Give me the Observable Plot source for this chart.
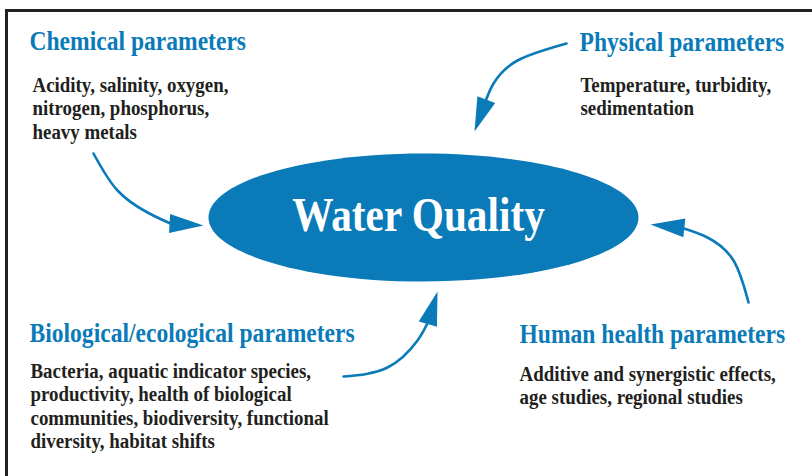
<!DOCTYPE html>
<html><head><meta charset="utf-8">
<script src="https://cdn.jsdelivr.net/npm/d3@7"></script>
<script src="https://cdn.jsdelivr.net/npm/@observablehq/plot@0.6"></script>
<style>
html,body{margin:0;padding:0;background:#fff}
#chart svg{display:block}
</style>
</head><body><div id="chart"></div>
<script>
// ---- content ----
const centerLabel = "Water Quality";
const groupTitles = [
  "Chemical parameters",
  "Physical parameters",
  "Biological/ecological parameters",
  "Human health parameters"
];
const groupItems = [
  ["Acidity, salinity, oxygen,", "nitrogen, phosphorus,", "heavy metals"],
  ["Temperature, turbidity,", "sedimentation"],
  ["Bacteria, aquatic indicator species,", "productivity, health of biological",
   "communities, biodiversity, functional", "diversity, habitat shifts"],
  ["Additive and synergistic effects,", "age studies, regional studies"]
];

// ---- layout of the diagram (pixel coordinates) ----
const titlePos = [[29, 49], [579, 50], [29, 341], [519, 342]];
const bodyPos = [[32, 91], [580, 91], [30, 377], [519, 380]];
const lineStep = 23.6;
const ellipsePos = {cx: 423, cy: 217, rx: 215, ry: 64};
const arrowPaths = [
  [[93, 153], [117, 190], [147, 212], [170, 223]],
  [[566, 43], [517, 60], [493, 83], [484, 104]],
  [[343, 376], [387, 367], [417, 340], [429, 318]],
  [[748, 302], [733, 260], [707, 237], [680, 227]]
];
const arrowTips = [[203, 225], [474, 131], [437, 291], [650, 224]];

const blue = "#0a7bb8";
const ink = "#231f20";
const font = "Liberation Serif, Times New Roman, serif";

// ---- build tables ----
const titles = groupTitles.map((t, i) => ({text: t, x: titlePos[i][0], y: titlePos[i][1]}));
const bodyLines = groupItems.flatMap((lines, i) =>
  lines.map((t, j) => ({text: t, x: bodyPos[i][0], y: bodyPos[i][1] + j * lineStep})));
const arrowLines = arrowPaths.flatMap((pts, i) => pts.map(([x, y]) => ({id: i, x, y})));
const heads = arrowTips.map(([x, y], i) => {
  const [bx, by] = arrowPaths[i][arrowPaths[i].length - 1];
  return {x, y, angle: Math.atan2(y - by, x - bx) * 180 / Math.PI};
});

const headSymbol = {
  draw(ctx) {
    const L = 34, W = 19;
    ctx.moveTo(0, 0);
    ctx.lineTo(-L, -W / 2);
    ctx.lineTo(-L, W / 2);
    ctx.closePath();
  }
};
const ellipseSymbol = {
  draw(ctx) {
    const {rx, ry} = ellipsePos, k = 0.5523;
    ctx.moveTo(rx, 0);
    ctx.bezierCurveTo(rx, ry * k, rx * k, ry, 0, ry);
    ctx.bezierCurveTo(-rx * k, ry, -rx, ry * k, -rx, 0);
    ctx.bezierCurveTo(-rx, -ry * k, -rx * k, -ry, 0, -ry);
    ctx.bezierCurveTo(rx * k, -ry, rx, -ry * k, rx, 0);
    ctx.closePath();
  }
};

const plot = Plot.plot({
  width: 812,
  height: 476,
  margin: 0,
  x: {domain: [0, 812], range: [0, 812], axis: null},
  y: {domain: [0, 476], range: [0, 476], axis: null},
  style: {background: "#fff"},
  marks: [
    Plot.ruleY([10], {x1: 5, x2: 812, stroke: "#222", strokeWidth: 3}),
    Plot.ruleX([6], {y1: 9, y2: 476, stroke: "#222", strokeWidth: 3}),
    Plot.dot([ellipsePos], {x: "cx", y: "cy", symbol: ellipseSymbol, fill: blue, stroke: "none"}),
    Plot.line(arrowLines, {x: "x", y: "y", z: "id", curve: "natural", stroke: blue, strokeWidth: 2.6}),
    Plot.dot(heads, {x: "x", y: "y", rotate: "angle", symbol: headSymbol, fill: blue, stroke: "none"}),
    Plot.text([centerLabel], {x: ellipsePos.cx - 5, y: 230, text: d => d, fill: "#fff", fontSize: 48, fontWeight: "bold", fontFamily: font, textAnchor: "middle", lineAnchor: "bottom"}),
    Plot.text(titles, {x: "x", y: "y", text: "text", fill: blue, fontSize: 27.4, fontWeight: "bold", fontFamily: font, textAnchor: "start", lineAnchor: "bottom"}),
    Plot.text(bodyLines, {x: "x", y: "y", text: "text", fill: ink, fontSize: 22, fontWeight: "bold", fontFamily: font, textAnchor: "start", lineAnchor: "bottom"})
  ]
});
document.getElementById("chart").appendChild(plot);

// condense the serif type horizontally to match the narrow typeface of the original
const condense = 0.86;
d3.select(plot).selectAll("text").each(function () {
  const el = d3.select(this);
  const x = +(el.attr("x") || 0), y = +(el.attr("y") || 0);
  const t = el.attr("transform") || "";
  el.attr("x", null).attr("y", null)
    .attr("transform", `${t} translate(${x},${y}) scale(${condense},1)`);
});
</script>
</body></html>
